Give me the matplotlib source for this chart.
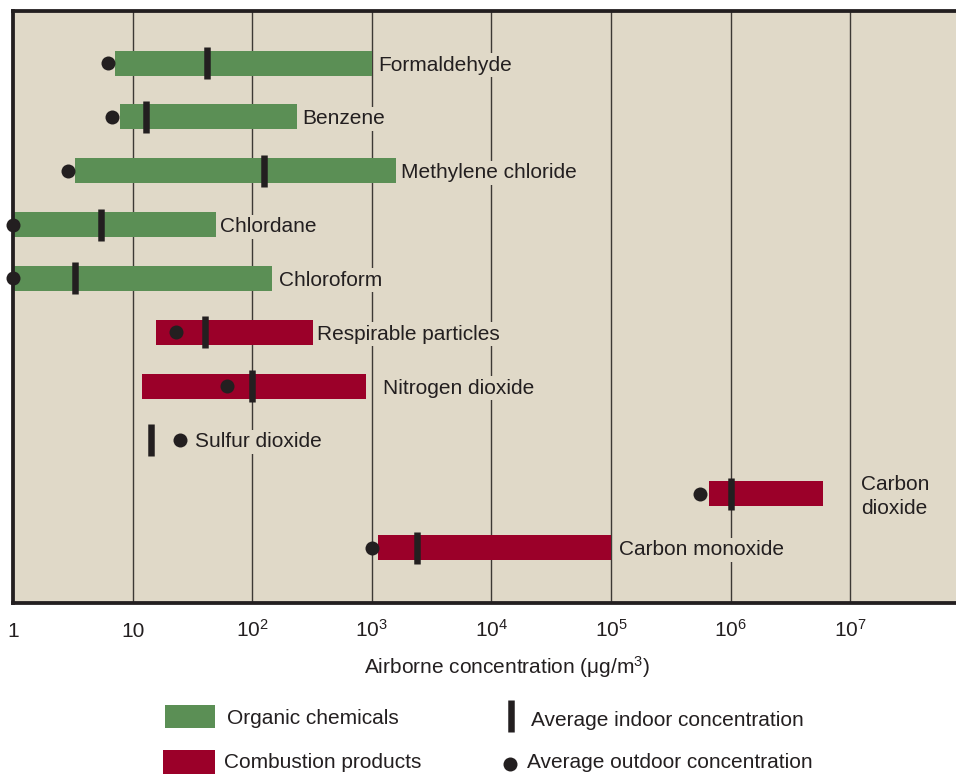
import matplotlib
matplotlib.use("Agg")
import matplotlib.pyplot as plt
from matplotlib.patches import Rectangle
from matplotlib.lines import Line2D

plt.rcParams['font.family'] = ['Liberation Sans', 'DejaVu Sans']

# ---- data -------------------------------------------------------------
pollutants = ['Formaldehyde', 'Benzene', 'Methylene chloride', 'Chlordane',
              'Chloroform', 'Respirable particles', 'Nitrogen dioxide',
              'Sulfur dioxide', 'Carbon\ndioxide', 'Carbon monoxide']
groups = ['organic'] * 5 + ['combustion'] * 5
range_low = [7.1, 7.8, 3.3, 1.0, 1.0, 15.7, 12.0, None, 6.6e5, 1.12e3]
range_high = [1000, 236, 1600, 50, 146, 320, 890, None, 5.9e6, 1.0e5]
indoor = [42, 12.9, 125, 5.4, 3.3, 40, 100, 14.3, 1.0e6, 2400]
outdoor = [6.2, 6.7, 2.9, 1.0, 1.0, 23, 61, 24.7, 5.5e5, 1000]

tick_values = [1, 10, 1e2, 1e3, 1e4, 1e5, 1e6, 1e7]
tick_labels = ['1', '10'] + [r'$\mathregular{10^{%d}}$' % k for k in range(2, 8)]

legend_labels = ['Organic chemicals', 'Combustion products',
                 'Average indoor concentration', 'Average outdoor concentration']

# ---- style ------------------------------------------------------------
W, H = 956, 774
BG = '#E0D9C8'
GREEN = '#5B8F55'
RED = '#9B0029'
INK = '#231F20'
colors = {'organic': GREEN, 'combustion': RED}
PT = 0.72  # points per pixel at dpi=100

# label gap (px) right of the rightmost mark of each row
label_gap_px = [6, 5, 5, 4, 7, 4, 17, 8, 38, 8]

fig = plt.figure(figsize=(W / 100, H / 100), dpi=100, facecolor='white')
left_px, right_px, top_px, bot_px = 13, 956, 11, 602.5
ax = fig.add_axes([left_px / W, 1 - bot_px / H,
                   (right_px - left_px) / W, (bot_px - top_px) / H])
ax.set_facecolor(BG)
ax.set_xscale('log')
ax.set_xlim(1, 10 ** ((right_px - left_px) / 119.6))
ax.set_ylim(10.02, -0.967)

for v in tick_values[1:]:
    ax.axvline(v, color='#3d3935', lw=1.0, zorder=0.5)

bar_h = 0.465
for i, name in enumerate(pollutants):
    lo, hi = range_low[i], range_high[i]
    if lo is not None:
        ax.barh(i, hi - lo, left=lo, height=bar_h, color=colors[groups[i]],
                zorder=2, linewidth=0)
    ax.plot([indoor[i]], [i], marker='|', ms=32 * PT, mew=6.5 * PT,
            color=INK, zorder=3, clip_on=False)
    ax.plot([outdoor[i]], [i], marker='o', ms=14 * PT, mew=0,
            color=INK, zorder=4, clip_on=False)
    anchor = hi if hi is not None else outdoor[i]
    extra = 0 if hi is not None else 7
    multi = '\n' in name
    ax.annotate(name, xy=(anchor, i),
                xytext=((label_gap_px[i] + extra) * PT, -2.5 * PT if multi else 0),
                textcoords='offset points', ha='left',
                va='center' if multi else 'center_baseline',
                fontsize=15, color=INK, linespacing=1.3, zorder=5,
                bbox=dict(boxstyle='square,pad=0.12', fc=BG, ec='none'))

for side in ['left', 'bottom', 'top']:
    ax.spines[side].set_linewidth(3.8 * PT)
    ax.spines[side].set_color(INK)
ax.spines['right'].set_visible(False)

ax.set_yticks([])
ax.xaxis.set_minor_locator(matplotlib.ticker.NullLocator())
ax.set_xticks(tick_values)
ax.set_xticklabels(tick_labels, fontsize=15, color=INK)
ax.tick_params(axis='x', length=0, pad=25)
for lbl in ax.get_xticklabels():
    lbl.set_verticalalignment('baseline')

ax.set_xlabel('Airborne concentration (μg/m$\\mathregular{^3}$)',
              fontsize=15, color=INK)
ax.xaxis.set_label_coords((507 - left_px) / (right_px - left_px),
                          -(664 - bot_px) / (bot_px - top_px))
ax.xaxis.label.set_verticalalignment('center_baseline')


# ---- legend (figure pixel layout) ------------------------------------
def fx(x):
    return x / W


def fy(y):
    return 1 - y / H


tf = fig.transFigure
fig.add_artist(Rectangle((fx(165), fy(728)), fx(215) - fx(165), fy(705) - fy(728),
                         transform=tf, fc=GREEN, ec='none'))
fig.add_artist(Rectangle((fx(163), fy(778)), fx(215) - fx(163), fy(750) - fy(778),
                         transform=tf, fc=RED, ec='none'))
fig.add_artist(Line2D([fx(511), fx(511)], [fy(732), fy(700)], transform=tf,
                      color=INK, lw=6.5 * PT, solid_capstyle='butt'))
fig.add_artist(Line2D([fx(510)], [fy(764)], transform=tf, marker='o',
                      ms=14 * PT, mew=0, color=INK))
for x, y, s in [(227, 717, legend_labels[0]), (224, 761, legend_labels[1]),
                (531, 718, legend_labels[2]), (527, 761, legend_labels[3])]:
    fig.text(fx(x), fy(y), s, fontsize=15, color=INK, va='center_baseline')

fig.savefig('out.png', dpi=100, facecolor='white')
